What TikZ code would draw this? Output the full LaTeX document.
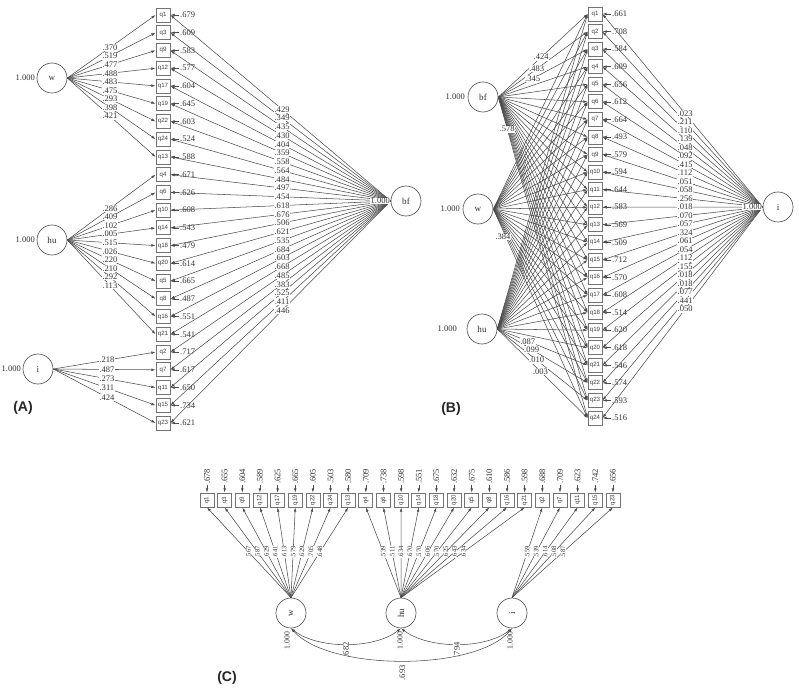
\documentclass[tikz,border=0pt]{standalone}
\usepackage{fontspec}
\setmainfont{Liberation Serif}
\newfontfamily\qfont{Liberation Sans}
\usetikzlibrary{arrows.meta,calc}
\begin{document}
\begin{tikzpicture}[x=0.75pt,y=-0.75pt,
  ln/.style={draw=black!70, line width=0.4pt},
  arr/.style={ln, -{Latex[length=3.2pt,width=2pt]}},
  darr/.style={ln, {Latex[length=3.2pt,width=2pt]}-{Latex[length=3.2pt,width=2pt]}},
  qbox/.style={draw=black!55, line width=0.6pt, minimum width=10.5pt, minimum height=10.5pt, inner sep=0pt, font=\qfont\fontsize{4.6}{5}\selectfont, text=black!75},
  lat/.style={circle, draw=black!65, line width=0.5pt, minimum size=22.5pt, inner sep=0pt, font=\fontsize{6.8}{7}\selectfont, text=black!80},
  lab/.style={fill=white, inner sep=0.4pt, font=\fontsize{6.4}{7}\selectfont, text=black!80},
  elab/.style={inner sep=0.4pt, font=\fontsize{6.4}{7}\selectfont, text=black!80},
  clab/.style={fill=white, inner sep=0.3pt, font=\fontsize{5}{6}\selectfont, text=black!80},
  vlab/.style={inner sep=0.3pt, font=\fontsize{5.8}{6}\selectfont, text=black!80},
  plab/.style={font=\qfont\bfseries\fontsize{10.5}{12}\selectfont, text=black!85}]
\useasboundingbox (0,0) rectangle (799,689);
\fill[white] (0,0) rectangle (799,689);

% ================= PANEL A =================
\foreach \q/\e [count=\k from 0] in {q1/.679,q3/.609,q9/.583,q12/.577,q17/.604,q19/.645,q22/.603,q24/.524,q13/.588,q4/.671,q6/.626,q10/.608,q14/.543,q18/.479,q20/.614,q5/.665,q8/.487,q16/.551,q21/.541,q2/.717,q7/.617,q11/.650,q15/.734,q23/.621}{
  \node[qbox] (a\k) at (163,{15+17.74*\k}) {\q};
  \node[elab,anchor=west] (ae\k) at ($(a\k.east)+(9,0)$) {\e};
  \draw[arr] (ae\k.west) -- (a\k.east);
}
\node[lat] (w) at (52,78) {w};
\node[lat] (hu) at (52,240) {hu};
\node[lat] (i) at (38,369) {i};
\node[lat] (bf) at (406,201) {bf};
\node[elab,anchor=east] (wv) at ($(w.west)+(-1,0)$) {1.000};
\node[elab,anchor=east] (huv) at ($(hu.west)+(-1,0)$) {1.000};
\node[elab,anchor=east] (iv) at ($(i.west)+(-1,0)$) {1.000};
\foreach \k in {0,...,8} \draw[arr] (w.east) -- (a\k.west);
\foreach \k in {9,...,18} \draw[arr] (hu.east) -- (a\k.west);
\foreach \k in {19,...,23} \draw[arr] (i.east) -- (a\k.west);
\foreach \k in {0,...,23} \draw[arr] (bf.west) -- (a\k.east);
\foreach \v [count=\k from 0] in {.370,.519,.477,.488,.483,.475,.293,.398,.421}
  \path (w.east) -- node[lab,pos=.483]{\v} (a\k.west);
\foreach \v [count=\k from 9] in {.286,.409,.102,.005,.515,.026,.220,.210,.292,.113}
  \path (hu.east) -- node[lab,pos=.483]{\v} (a\k.west);
\foreach \v [count=\k from 19] in {.218,.487,.273,.311,.424}
  \path (i.east) -- node[lab,pos=.524]{\v} (a\k.west);
\foreach \v [count=\k from 0] in {.429,.349,.435,.430,.404,.359,.558,.564,.484,.497,.454,.618,.676,.506,.621,.535,.684,.603,.668,.485,.383,.525,.411,.446}
  \path (bf.west) -- node[lab,pos=.493]{\v} (a\k.east);
\node[lab,anchor=east] (bfv) at (bf.west) {1.000};
\node[plab] (pA) at (23,408) {(A)};

% ================= PANEL B =================
\foreach \q/\e [count=\k from 0] in {q1/.661,q2/.708,q3/.584,q4/.609,q5/.656,q6/.612,q7/.664,q8/.493,q9/.579,q10/.594,q11/.644,q12/.583,q13/.569,q14/.509,q15/.712,q16/.570,q17/.608,q18/.514,q19/.620,q20/.618,q21/.546,q22/.574,q23/.593,q24/.516}{
  \node[qbox] (b\k) at (595,{14+17.565*\k}) {\q};
  \node[elab,anchor=west] (be\k) at ($(b\k.east)+(9,0)$) {\e};
  \draw[arr] (be\k.west) -- (b\k.east);
}
\node[lat] (bbf) at (483,97) {bf};
\node[lat] (bw) at (478,209) {w};
\node[lat] (bhu) at (482,329) {hu};
\node[lat] (bi) at (778,207) {i};
\node[elab,anchor=east] (bbfv) at ($(bbf.west)+(-2,0)$) {1.000};
\node[elab,anchor=east] (bwv) at ($(bw.west)+(-2,0)$) {1.000};
\node[elab,anchor=east] (bhuv) at ($(bhu.west)+(-9,0)$) {1.000};
\foreach \k in {0,...,23}{
  \draw[arr] (bbf.east) -- (b\k.west);
  \draw[arr] (bw.east) -- (b\k.west);
  \draw[arr] (bhu.east) -- (b\k.west);
  \draw[arr] (bi.west) -- (b\k.east);
}
\foreach \v [count=\k from 0] in {.023,.211,.110,.139,.048,.092,.415,.112,.051,.058,.256,.018,.070,.057,.324,.061,.054,.112,.155,.018,.018,.077,.441,.050}
  \path (bi.west) -- node[lab,pos=.484]{\v} (b\k.east);
\foreach \t/\p/\v in {0/.48/.424,1/.43/.483,2/.385/.345,23/.1/.578}
  \path (bbf.east) -- node[lab,pos=\p]{\v} (b\t.west);
\node[lab] (bwl) at (503,237) {.384};
\foreach \t/\p/\v in {20/.337/.087,21/.38/.099,22/.435/.010,23/.478/.003}
  \path (bhu.east) -- node[lab,pos=\p]{\v} (b\t.west);
\node[lab,anchor=east] (biv) at (bi.west) {1.000};
\node[plab] (pB) at (451,409) {(B)};

% ================= PANEL C =================
\foreach \q/\e [count=\k from 0] in {q1/.678,q3/.655,q9/.604,q12/.589,q17/.625,q19/.665,q22/.605,q24/.503,q13/.580,q4/.709,q6/.738,q10/.598,q14/.551,q18/.675,q20/.632,q5/.675,q8/.610,q16/.586,q21/.598,q2/.688,q7/.709,q11/.623,q15/.742,q23/.656}{
  \node[qbox] (c\k) at ({207+17.65*\k},500) {\rotatebox{90}{\q}};
  \node[elab,anchor=south] (ce\k) at ($(c\k.north)+(0,-8)$) {\rotatebox{90}{\e}};
  \draw[arr] (ce\k.south) -- (c\k.north);
}
\node[lat] (cw) at (291,613) {\rotatebox{90}{w}};
\node[lat] (chu) at (401,613) {\rotatebox{90}{hu}};
\node[lat] (ci) at (512,613) {\rotatebox{90}{i}};
\foreach \k in {0,...,8} \draw[arr] (cw.north) -- (c\k.south);
\foreach \k in {9,...,18} \draw[arr] (chu.north) -- (c\k.south);
\foreach \k in {19,...,23} \draw[arr] (ci.north) -- (c\k.south);
\foreach \v [count=\k from 0] in {.567,.587,.629,.641,.613,.579,.629,.705,.648}
  \path (cw.north) -- node[clab,pos=.505]{\rotatebox{90}{\v}} (c\k.south);
\foreach \v [count=\k from 9] in {.539,.511,.634,.670,.570,.606,.570,.625,.643,.634}
  \path (chu.north) -- node[clab,pos=.505]{\rotatebox{90}{\v}} (c\k.south);
\foreach \v [count=\k from 19] in {.559,.539,.614,.508,.587}
  \path (ci.north) -- node[clab,pos=.505]{\rotatebox{90}{\v}} (c\k.south);
\node[vlab,anchor=north] (cwv) at ($(cw.south)+(-4,3)$) {\rotatebox{90}{1.000}};
\node[vlab,anchor=north] (chuv) at ($(chu.south)+(-1,3)$) {\rotatebox{90}{1.000}};
\node[vlab,anchor=north] (civ) at ($(ci.south)+(-2,3)$) {\rotatebox{90}{1.000}};
\draw[darr] (cw.south) .. controls ($(cw.south)+(27,21)$) and ($(chu.south)+(-27,21)$) .. node[lab,pos=.5,anchor=north,yshift=2pt]{\rotatebox{90}{.682}} (chu.south);
\draw[darr] (chu.south) .. controls ($(chu.south)+(28,21)$) and ($(ci.south)+(-27,21)$) .. node[lab,pos=.5,anchor=north,yshift=2pt]{\rotatebox{90}{.794}} (ci.south);
\draw[darr] (cw.south) .. controls ($(cw.south)+(39,43)$) and ($(ci.south)+(-37,43)$) .. node[lab,pos=.5,anchor=north,yshift=-3pt]{\rotatebox{90}{.693}} (ci.south);
\node[plab] (pC) at (227,678) {(C)};
\end{tikzpicture}
\end{document}
